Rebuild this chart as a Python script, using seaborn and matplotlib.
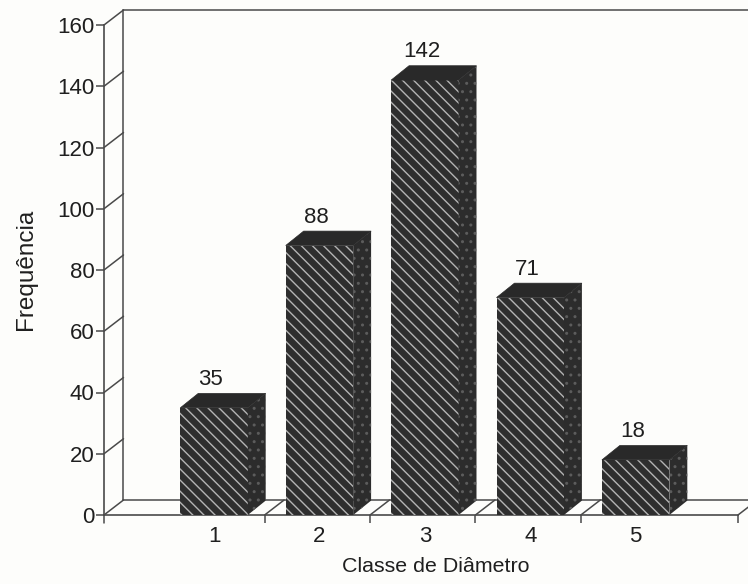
import matplotlib
matplotlib.use("Agg")
import matplotlib.pyplot as plt
import seaborn as sns
from matplotlib.patches import Polygon

classes = ["1", "2", "3", "4", "5"]
freq = [35, 88, 142, 71, 18]
y_ticks = [0, 20, 40, 60, 80, 100, 120, 140, 160]

# 3d look, depth of the fake extrusion in data units
BAR_W = 0.64
DX = 0.17
DY = 4.7
WALL_DX = 0.185
WALL_DY = 4.9
LINE = "#4a4a4a"
DARK = "#2e2e2e"
TEXT = "#1f1f1f"

sns.set_theme(style="white")
plt.rcParams["font.family"] = ["Liberation Sans", "DejaVu Sans"]
plt.rcParams["hatch.linewidth"] = 1.0

fig = plt.figure(figsize=(7.48, 5.84), dpi=100, facecolor="#fdfdfb")
ax = fig.add_axes([104 / 748, 69 / 584, 634 / 748, 490 / 584])
ax.patch.set_alpha(0)

sns.barplot(
    x=classes, y=freq, order=classes, width=BAR_W, color=DARK, saturation=1,
    linewidth=0, ax=ax, zorder=3,
)
for bar in ax.patches:
    bar.set_facecolor(DARK)
    bar.set_edgecolor("#b4b4b4")
    bar.set_hatch("\\\\\\")

xmin, xmax = -1.044, 4.971
ax.set_xlim(xmin, xmax)
ax.set_ylim(0, 160)

# side and top faces of the bars
for i, v in enumerate(freq):
    l, r = i - BAR_W / 2, i + BAR_W / 2
    side = Polygon([(r, 0), (r + DX, DY), (r + DX, v + DY), (r, v)], closed=True,
                   facecolor="#2c2c2c", edgecolor="#5c5c5c", hatch="..",
                   linewidth=0, zorder=3, clip_on=False)
    top = Polygon([(l, v), (l + DX, v + DY), (r + DX, v + DY), (r, v)], closed=True,
                  facecolor="#292929", edgecolor="#292929", linewidth=0.5,
                  zorder=3, clip_on=False)
    ax.add_patch(side)
    ax.add_patch(top)
    ax.text(i - 0.03, v + 9.2, str(v), ha="center", va="center", fontsize=16, color=TEXT)

# back wall and floor
wall = dict(color=LINE, lw=1.1, clip_on=False, zorder=1)
ax.plot([xmin + WALL_DX] * 2, [WALL_DY, 160 + WALL_DY], **wall)
ax.plot([xmin + WALL_DX, xmax + 0.2], [160 + WALL_DY] * 2, **wall)
ax.plot([xmin + WALL_DX, xmax + 0.2], [WALL_DY] * 2, **wall)
ax.plot([xmin, xmin], [-2.6, 0], **wall)
for t in y_ticks:
    ax.plot([xmin, xmin + WALL_DX], [t, t + WALL_DY], **wall)
seps = [0.48, 1.48, 2.48, 3.48, xmax]
for s in seps:
    ax.plot([s, s + WALL_DX], [0, WALL_DY], **wall)

sns.despine(ax=ax)
for side_name in ["left", "bottom"]:
    ax.spines[side_name].set_color(LINE)
    ax.spines[side_name].set_linewidth(1.2)

ax.set_yticks(y_ticks)
ax.set_xticks(range(len(classes)))
ax.set_xticklabels(classes)
ax.set_xticks(seps, minor=True)
ax.tick_params(axis="y", left=True, length=6, width=1.1, color=LINE, labelsize=16,
               labelcolor=TEXT, pad=1)
ax.tick_params(axis="x", which="major", bottom=False, length=0, labelsize=16,
               labelcolor=TEXT, pad=8)
ax.tick_params(axis="x", which="minor", bottom=True, length=6, width=1.1, color=LINE)

fig.text(436 / 748, 1 - 566 / 584, "Classe de Diâmetro", ha="center", va="center",
         fontsize=15.4, color=TEXT)
fig.text(26 / 748, 1 - 269 / 584, "Frequência", ha="center", va="center", rotation=90,
         fontsize=17.5, color=TEXT)

fig.savefig("out.png", dpi=100, facecolor=fig.get_facecolor())
